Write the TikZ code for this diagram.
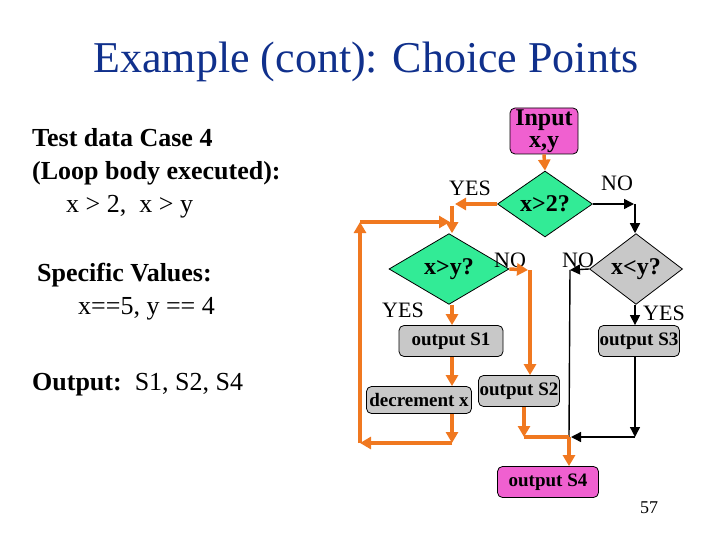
\documentclass[tikz,border=0pt]{standalone}
\usepackage{fontspec}
\setmainfont{Liberation Serif}
\usetikzlibrary{shapes.geometric,arrows.meta}
\definecolor{hiorange}{RGB}{240,120,32}
\definecolor{dgreen}{RGB}{50,235,150}
\definecolor{pinkbox}{RGB}{240,96,208}
\definecolor{graybox}{RGB}{200,200,200}
\definecolor{titleblue}{RGB}{16,48,140}
\tikzset{
  boxbase/.style={draw=black, line width=0.8pt, rounded corners=5pt, inner sep=0pt, align=center, font=\fontsize{19}{20}\selectfont\bfseries},
  graynode/.style={boxbase, fill=graybox},
  pinknode/.style={boxbase, fill=pinkbox},
  decision/.style={diamond, draw=black, line width=0.8pt, inner sep=0pt, font=\fontsize{24}{25}\selectfont\bfseries},
  lefttext/.style={anchor=base west, inner sep=0pt, font=\fontsize{26}{28}\selectfont},
  lbl/.style={inner sep=0pt, font=\fontsize{22}{24}\selectfont},
  hi/.style={draw=hiorange, line width=3.5pt},
  hiarrow/.style={hi, -{Triangle[length=11pt,width=12pt]}},
  plain/.style={draw=black, line width=1.4pt},
  plainarrow/.style={plain, -{Triangle[length=10pt,width=10pt]}}
}
\begin{document}
\begin{tikzpicture}[x=1pt,y=-1pt]
\useasboundingbox (0,0) rectangle (720,540);
% title
\node[anchor=base, inner sep=0pt, text=titleblue, font=\fontsize{44}{46}\selectfont] (title) at (366,73) {Example (cont): Choice Points};
% left text
\node[lefttext, font=\fontsize{26}{28}\selectfont\bfseries] (t1) at (32,147) {Test data Case 4};
\node[lefttext, font=\fontsize{26}{28}\selectfont\bfseries] (t2) at (32,180) {(Loop body executed):};
\node[lefttext] (t3) at (66,213) {x > 2,\ \ x > y};
\node[lefttext, font=\fontsize{26}{28}\selectfont\bfseries] (t4) at (37,281) {Specific Values:};
\node[lefttext] (t5) at (78,314) {x==5, y == 4};
\node[lefttext] (t6) at (32,390) {\textbf{Output:}\ \ S1, S2, S4};
% flowchart nodes
\node[pinknode, minimum width=68pt, minimum height=46pt, font=\fontsize{24}{22}\selectfont\bfseries] (inp) at (544,131) {Input\\x,y};
\node[decision, fill=dgreen, minimum width=95pt, minimum height=47pt] (d1) at (545,204) {x>2?};
\node[decision, fill=dgreen, minimum width=120pt, minimum height=47pt] (d2) at (449,269) {x>y?};
\node[decision, fill=graybox, minimum width=93pt, minimum height=48pt] (d3) at (636,269) {x<y?};
\node[graynode, minimum width=104pt, minimum height=31pt] (s1) at (451,341) {output S1};
\node[graynode, minimum width=81pt, minimum height=31pt] (s3) at (639,341) {output S3};
\node[graynode, minimum width=105pt, minimum height=27pt] (dec) at (419,400) {decrement x};
\node[graynode, minimum width=81pt, minimum height=31pt] (s2) at (519,391) {output S2};
\node[pinknode, minimum width=101pt, minimum height=31pt] (s4) at (548,482) {output S4};
% labels
\node[lbl] (yes1) at (470,188) {YES};
\node[lbl] (no1) at (617,183) {NO};
\node[lbl] (no2) at (510,260) {NO};
\node[lbl] (no3) at (578,260) {NO};
\node[lbl] (yes2) at (403,310) {YES};
\node[lbl] (yes3) at (664,313) {YES};
\node[inner sep=0pt, font=\fontsize{18}{20}\selectfont] (pg) at (649,508) {57};
% coordinates
\coordinate (cx) at (452,0);
\coordinate (yesend) at (455,204);
\coordinate (ytop) at (452,206);
\coordinate (lt) at (360,222);
\coordinate (ltend) at (450,222);
\coordinate (lb) at (452,443);
\coordinate (lbl2) at (360,443);
\coordinate (noend) at (528,270);
\coordinate (nocorner) at (530,270);
\coordinate (s2x) at (524,0);
\coordinate (s2low) at (524,437);
\coordinate (junc) at (569,437);
\coordinate (bx1) at (634,204);
\coordinate (bc1) at (635,204);
\coordinate (no3end) at (570,270);
\coordinate (bx3) at (635,0);
\coordinate (s3low) at (635,437);
\coordinate (juncr) at (571,437);
% black connectors
\draw[plainarrow] (d1.east) -- (bx1);
\draw[plainarrow] (bc1) -- (d3.north -| bc1);
\draw[plainarrow] (d3.west) -- (no3end);
\draw[plain] (no3end) -- (junc);
\draw[plainarrow] (d3.south -| bx3) -- (s3.north -| bx3);
\draw[plainarrow] (s3.south -| bx3) -- (s3low);
\draw[plainarrow] (s3low) -- (juncr);
% highlighted connectors
\draw[hiarrow] (inp.south) -- (d1.north);
\draw[hiarrow] (d1.west) -- (yesend);
\draw[hiarrow] (ytop) -- (d2.north -| ytop);
\draw[hiarrow] (d2.south -| cx) -- (s1.north -| cx);
\draw[hiarrow] (s1.south -| cx) -- (dec.north -| cx);
\draw[hiarrow] (dec.south -| cx) -- (lb);
\draw[hiarrow] (lb) -- (lbl2);
\draw[hiarrow] (lbl2) -- (lt);
\draw[hiarrow] (lt) -- (ltend);
\draw[hiarrow] (d2.east) -- (noend);
\draw[hiarrow] (nocorner) -- (s2.north -| nocorner);
\draw[hiarrow] (s2.south -| s2x) -- (s2low);
\draw[hi] (s2low) -- (junc);
\draw[hiarrow] (junc) -- (s4.north -| junc);
\end{tikzpicture}
\end{document}
